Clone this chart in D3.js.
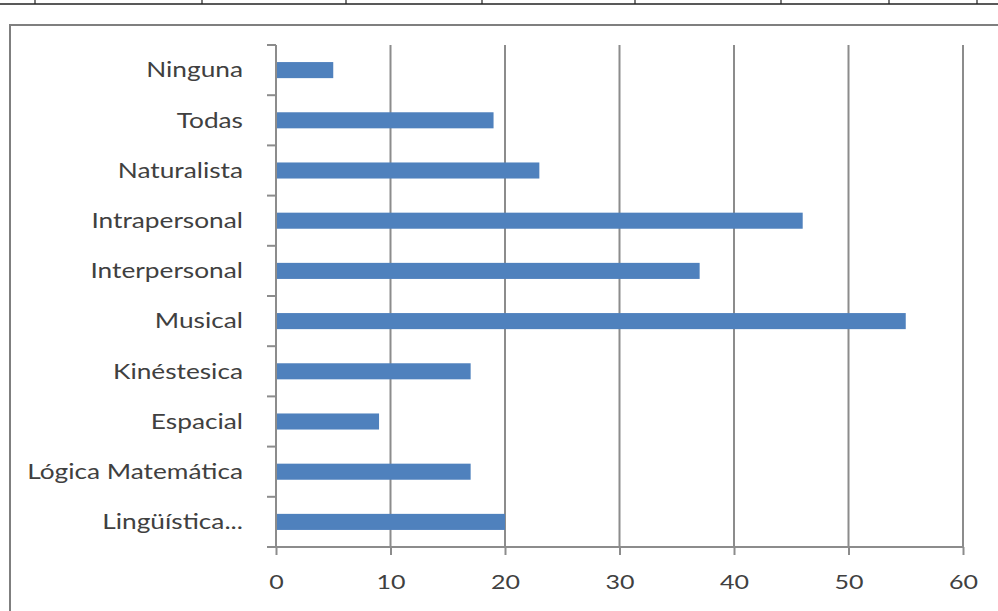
<!DOCTYPE html>
<html>
<head>
<meta charset="utf-8">
<script src="https://cdn.jsdelivr.net/npm/d3@7"></script>
<style>
  html, body { margin: 0; padding: 0; background: #fff; }
  svg { display: block; }
</style>
</head>
<body>
<svg id="chart" width="998" height="611"></svg>
<script>
// Data (first category is drawn at the bottom, as in the original)
const categories = ["Lingüística...", "Lógica Matemática", "Espacial", "Kinéstesica", "Musical",
                    "Interpersonal", "Intrapersonal", "Naturalista", "Todas", "Ninguna"];
const values = [20, 17, 9, 17, 55, 37, 46, 23, 19, 5];
const xTicks = [0, 10, 20, 30, 40, 50, 60];
const tableDividers = [35, 202, 346, 482, 635, 781, 889, 977];

const svg = d3.select("#chart");
const W = 998, H = 611;
const plot = { left: 276, right: 963, top: 45, bottom: 547 };
const fontFam = "Lato, 'Open Sans', sans-serif";
const textColor = "#404040";
const gridColor = "#8c8c8c";
const labelScaleX = 1.25;

// top table border fragment
svg.append("line").attr("x1", 0).attr("x2", W).attr("y1", 4).attr("y2", 4)
  .attr("stroke", "#222").attr("stroke-width", 1.5);
svg.selectAll(".tdiv").data(tableDividers).join("line")
  .attr("x1", d => d).attr("x2", d => d).attr("y1", 0).attr("y2", 4)
  .attr("stroke", "#222").attr("stroke-width", 1.2);

// chart area border with slight shadow
svg.append("rect").attr("x", 12).attr("y", 27).attr("width", 1010).attr("height", 620)
  .attr("fill", "none").attr("stroke", "#d0d0d0").attr("stroke-width", 2);
svg.append("rect").attr("x", 10).attr("y", 25).attr("width", 1010).attr("height", 620)
  .attr("fill", "#fff").attr("stroke", "#7f7f7f").attr("stroke-width", 2);

const x = d3.scaleLinear().domain([0, 60]).range([plot.left, plot.right]);
const y = d3.scaleBand().domain(categories).range([plot.bottom, plot.top]).paddingInner(0.68).paddingOuter(0.34);
const yb = d3.scaleBand().domain(categories).range([plot.bottom, plot.top]);

// gridlines
svg.append("g").selectAll("line").data(xTicks.filter(t => t > 0)).join("line")
  .attr("x1", d => x(d)).attr("x2", d => x(d))
  .attr("y1", plot.top).attr("y2", plot.bottom)
  .attr("stroke", gridColor).attr("stroke-width", 2);

// bars
svg.append("g").selectAll("rect").data(categories).join("rect")
  .attr("x", x(0))
  .attr("y", d => y(d))
  .attr("width", (d, i) => x(values[i]) - x(0))
  .attr("height", y.bandwidth())
  .attr("fill", "#4f81bd");

// x axis
const xAxis = d3.axisBottom(x).tickValues(xTicks).tickSize(8).tickPadding(20).tickFormat(d3.format("d"));
const gx = svg.append("g").attr("transform", `translate(0,${plot.bottom})`).call(xAxis);
gx.select(".domain").attr("stroke", gridColor).attr("stroke-width", 2).attr("d", `M${plot.left},0H${plot.right}`);
gx.selectAll(".tick line").attr("stroke", gridColor).attr("stroke-width", 2);
gx.selectAll(".tick text")
  .attr("fill", textColor).attr("font-family", fontFam).attr("font-size", 20)
  .attr("transform", `scale(${labelScaleX},1)`)
  .attr("x", 0);
gx.selectAll(".tick").each(function() {
  const t = d3.select(this).attr("transform");
  const tx = +t.match(/translate\(([-\d.]+)/)[1];
  d3.select(this).attr("transform", `translate(${tx},0)`);
});

// y axis: line, boundary ticks, labels
const gy = svg.append("g");
gy.append("line").attr("x1", plot.left).attr("x2", plot.left)
  .attr("y1", plot.top).attr("y2", plot.bottom)
  .attr("stroke", gridColor).attr("stroke-width", 2);
const bounds = categories.map(c => yb(c)).concat([yb(categories[0]) + yb.bandwidth()]);
gy.selectAll(".yt").data(bounds).join("line")
  .attr("x1", plot.left - 9).attr("x2", plot.left)
  .attr("y1", d => d).attr("y2", d => d)
  .attr("stroke", gridColor).attr("stroke-width", 2);
gy.selectAll(".lbl").data(categories).join("text")
  .attr("transform", d => `translate(243,${yb(d) + yb.bandwidth() / 2}) scale(${labelScaleX},1)`)
  .attr("text-anchor", "end")
  .attr("dy", "0.35em")
  .attr("fill", textColor)
  .attr("font-family", fontFam)
  .attr("font-size", 21)
  .text(d => d);
</script>
</body>
</html>
